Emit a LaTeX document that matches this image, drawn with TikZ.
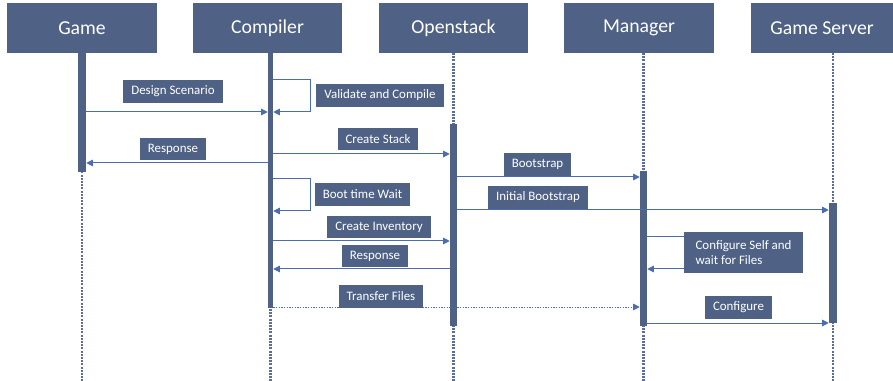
\documentclass[tikz,border=0pt]{standalone}
\usepackage{fontspec}
\setmainfont{Carlito}
\usetikzlibrary{arrows.meta}
\definecolor{hdr}{HTML}{4F6286}
\definecolor{lnk}{HTML}{4A6DB0}
\definecolor{life}{HTML}{5C6F98}
\begin{document}
\begin{tikzpicture}[x=0.75pt,y=-0.75pt,
  header/.style={fill=hdr, text=white, inner sep=0pt, minimum height=37.5pt,
    font=\fontsize{14.8}{17}\selectfont},
  lbl/.style={fill=hdr, text=white, inner xsep=6pt, inner ysep=0pt, minimum height=17pt,
    font=\fontsize{9.7}{11.5}\selectfont},
  bar/.style={fill=hdr, draw=none, inner sep=0pt},
  lifeline/.style={draw=life, line width=1.6pt, dash pattern=on 1.5pt off 0.9pt},
  msg/.style={draw=lnk, line width=0.75pt, -{Triangle[length=5pt,width=5pt]}},
  dmsg/.style={msg, dash pattern=on 1pt off 1pt}
]
\useasboundingbox (0,0) rectangle (893,381);

% headers
\node[header, minimum width=112.5pt] (game) at (82,28) {Game};
\node[header, minimum width=111.75pt] (comp) at (267.5,28) {Compiler};
\node[header, minimum width=111.75pt] (os) at (453.5,28) {Openstack};
\node[header, minimum width=112.5pt] (mgr) at (639,28) {Manager};
\node[header, minimum width=106.5pt] (gs) at (822,28) {Game Server};

% lifelines
\coordinate (gameTop) at (82,53);   \coordinate (gameBot) at (82,381);
\coordinate (compTop) at (270.5,53); \coordinate (compBot) at (270.5,381);
\coordinate (osTop) at (453.5,53);  \coordinate (osBot) at (453.5,381);
\coordinate (mgrTop) at (643.5,53); \coordinate (mgrBot) at (643.5,381);
\coordinate (gsTop) at (833,53);    \coordinate (gsBot) at (833,381);
\foreach \l in {game,comp,os,mgr,gs}{ \draw[lifeline] (\l Top) -- (\l Bot); }

% activation bars
\node[bar, minimum width=6pt, minimum height=89.25pt] (gameBar) at (82,112.5) {};
\node[bar, minimum width=3.75pt, minimum height=191.25pt] (compBar) at (270.5,180.5) {};
\node[bar, minimum width=5.25pt, minimum height=151.5pt] (osBar) at (453.5,225) {};
\node[bar, minimum width=5.25pt, minimum height=116.25pt] (mgrBar) at (643.5,248.5) {};
\node[bar, minimum width=6pt, minimum height=90pt] (gsBar) at (833,263) {};

% loop corners
\coordinate (v1) at (310,80);  \coordinate (v2) at (310,112);
\coordinate (b1) at (310,179); \coordinate (b2) at (310,211);
\coordinate (m1) at (760,237); \coordinate (m2) at (760,269);

% messages
\draw[msg] (gameBar.east |- 0,112) -- (compBar.west |- 0,112);
\draw[msg] (compBar.east |- v1) -- (v1) -- (v2) -- (compBar.east |- v2);
\draw[msg] (compBar.east |- 0,154) -- (osBar.west |- 0,154);
\draw[msg] (compBar.west |- 0,163) -- (gameBar.east |- 0,163);
\draw[msg] (osBar.east |- 0,177) -- (mgrBar.west |- 0,177);
\draw[msg] (osBar.east |- 0,210) -- (gsBar.west |- 0,210);
\draw[msg] (compBar.east |- b1) -- (b1) -- (b2) -- (compBar.east |- b2);
\draw[msg] (compBar.east |- 0,241) -- (osBar.west |- 0,241);
\draw[msg] (osBar.west |- 0,269) -- (compBar.east |- 0,269);
\draw[msg] (mgrBar.east |- m1) -- (m1) -- (m2) -- (mgrBar.east |- m2);
\draw[dmsg] (compBar.east |- 0,307) -- (mgrBar.west |- 0,307);
\draw[msg] (mgrBar.east |- 0,323) -- (gsBar.west |- 0,323);

% labels
\node[lbl] (l1) at (173,91.5) {Design Scenario};
\node[lbl] (l2) at (380,95.5) {Validate and Compile};
\node[lbl] (l3) at (378,139) {Create Stack};
\node[lbl] (l4) at (173,149) {Response};
\node[lbl] (l5) at (537.5,164.5) {Bootstrap};
\node[lbl] (l6) at (538,197.5) {Initial Bootstrap};
\node[lbl] (l7) at (362.5,194.5) {Boot time Wait};
\node[lbl] (l8) at (379,227) {Create Inventory};
\node[lbl] (l9) at (375,256) {Response};
\node[lbl, align=left, minimum width=89.25pt, minimum height=30.75pt] (l10) at (743.5,252.5) {Configure Self and\\wait for Files};
\node[lbl] (l11) at (381,296.5) {Transfer Files};
\node[lbl] (l12) at (738.5,307.5) {Configure};
\end{tikzpicture}
\end{document}
